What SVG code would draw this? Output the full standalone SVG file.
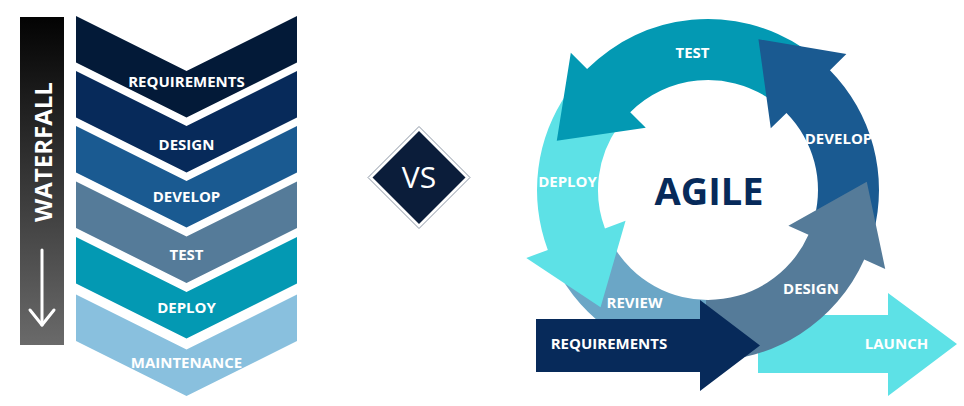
<svg xmlns="http://www.w3.org/2000/svg" width="964" height="406" viewBox="0 0 964 406">
  <defs>
    <linearGradient id="barGrad" x1="0" y1="0" x2="0" y2="1">
      <stop offset="0" stop-color="#030303"/>
      <stop offset="1" stop-color="#6a6a6a"/>
    </linearGradient>
    <style>
      .lbl { font-family: "Open Sans", "Liberation Sans", sans-serif; font-weight: 700; font-size: 15px; fill: #ffffff; text-anchor: middle; }
      .big { font-family: "Open Sans", "Liberation Sans", sans-serif; font-weight: 700; font-size: 24px; fill: #ffffff; text-anchor: middle; }
      .agile { font-family: "Open Sans", "Liberation Sans", sans-serif; font-weight: 700; font-size: 38px; fill: #072a5a; text-anchor: middle; }
      .vs { font-family: "Open Sans", "Liberation Sans", sans-serif; font-weight: 400; font-size: 30px; fill: #ffffff; text-anchor: middle; }
    </style>
  </defs>
  <rect width="964" height="406" fill="#ffffff"/>

  <!-- Waterfall bar -->
  <g id="waterfall-bar">
    <rect x="20" y="17" width="44" height="328" fill="url(#barGrad)"/>
    <text class="big" transform="translate(52,152) rotate(-90)">WATERFALL</text>
    <g stroke="#ffffff" stroke-width="3" stroke-linecap="round" stroke-linejoin="round" fill="none">
      <line x1="42" y1="250" x2="42" y2="325"/>
      <polyline points="30,310 42,325 54,310"/>
    </g>
  </g>

  <!-- Waterfall chevrons -->
  <g id="wf-requirements">
    <polygon points="76,16 186.5,71 297,16 297,62.5 186.5,117.5 76,62.5" fill="#031a38"/>
    <text class="lbl" x="186.5" y="87">REQUIREMENTS</text>
  </g>
  <g id="wf-design">
    <polygon points="76,71 186.5,126 297,71 297,117.5 186.5,172.5 76,117.5" fill="#072a5a"/>
    <text class="lbl" x="186.5" y="150">DESIGN</text>
  </g>
  <g id="wf-develop">
    <polygon points="76,126 186.5,181 297,126 297,172.5 186.5,227.5 76,172.5" fill="#1a5a91"/>
    <text class="lbl" x="186.5" y="202">DEVELOP</text>
  </g>
  <g id="wf-test">
    <polygon points="76,181.5 186.5,236.5 297,181.5 297,228 186.5,283 76,228" fill="#557b99"/>
    <text class="lbl" x="186.5" y="260">TEST</text>
  </g>
  <g id="wf-deploy">
    <polygon points="76,237 186.5,292 297,237 297,283.5 186.5,338.5 76,283.5" fill="#0399b3"/>
    <text class="lbl" x="186.5" y="313">DEPLOY</text>
  </g>
  <g id="wf-maintenance">
    <polygon points="76,294.5 186.5,349.5 297,294.5 297,341 186.5,396 76,341" fill="#89c0de"/>
    <text class="lbl" x="186.5" y="368">MAINTENANCE</text>
  </g>

  <!-- VS -->
  <g id="vs">
    <polygon points="419,126.5 470,177.5 419,228.5 368,177.5" fill="none" stroke="#8d97a5" stroke-width="1"/>
    <polygon points="419,131 465.5,177.5 419,224 372.5,177.5" fill="#0b1d3a"/>
    <text class="vs" x="419" y="188">VS</text>
  </g>

  <!-- Agile cycle -->
  <g id="ag-launch">
    <polygon points="758,315 888,315 888,293 957,344 888,396 888,373 758,373" fill="#5de1e6"/>
    <text class="lbl" x="896.5" y="349">LAUNCH</text>
  </g>
  <g id="ag-review">
    <path d="M559.91,275.5 A171,171 0 0 0 713.97,360.9 L711.84,299.93 A110,110 0 0 1 612.74,245 Z" fill="#6ba6c6"/>
    <text class="lbl" x="634.5" y="308">REVIEW</text>
  </g>
  <g id="ag-deploy">
    <path d="M567.93,91.92 A171,171 0 0 0 547.83,249.89 L526.29,257.94 L600.58,307.23 L625.57,220.82 L604.97,228.52 A110,110 0 0 1 617.89,126.91 Z" fill="#5de1e6"/>
    <text class="lbl" x="567.5" y="187">DEPLOY</text>
  </g>
  <g id="ag-test">
    <path d="M803.62,48.23 A171,171 0 0 0 587.08,69.08 L570.82,52.82 L556.78,140.87 L645.77,127.77 L630.22,112.22 A110,110 0 0 1 769.51,98.81 Z" fill="#0399b3"/>
    <text class="lbl" x="692.5" y="58">TEST</text>
  </g>
  <g id="ag-develop">
    <path d="M873.17,234.26 A171,171 0 0 0 829.97,70.14 L846.37,54.02 L758.45,39.22 L770.77,128.32 L786.46,112.9 A110,110 0 0 1 814.25,218.47 Z" fill="#1a5a91"/>
    <text class="lbl" x="838.5" y="144">DEVELOP</text>
  </g>
  <g id="ag-design">
    <path d="M705.02,360.97 A171,171 0 0 0 864.22,259.55 L885.23,268.91 L866.78,181.68 L788.39,225.79 L808.49,234.74 A110,110 0 0 1 706.08,299.98 Z" fill="#557b99"/>
    <text class="lbl" x="811" y="294">DESIGN</text>
  </g>
  <g id="ag-requirements">
    <polygon points="536,319 700,319 700,300 760,345.5 700,391 700,372 536,372" fill="#072a5a"/>
    <text class="lbl" x="609" y="349">REQUIREMENTS</text>
  </g>
  <g id="ag-title">
    <text class="agile" x="709" y="205">AGILE</text>
  </g>
  <g id="connectors"></g>
</svg>
